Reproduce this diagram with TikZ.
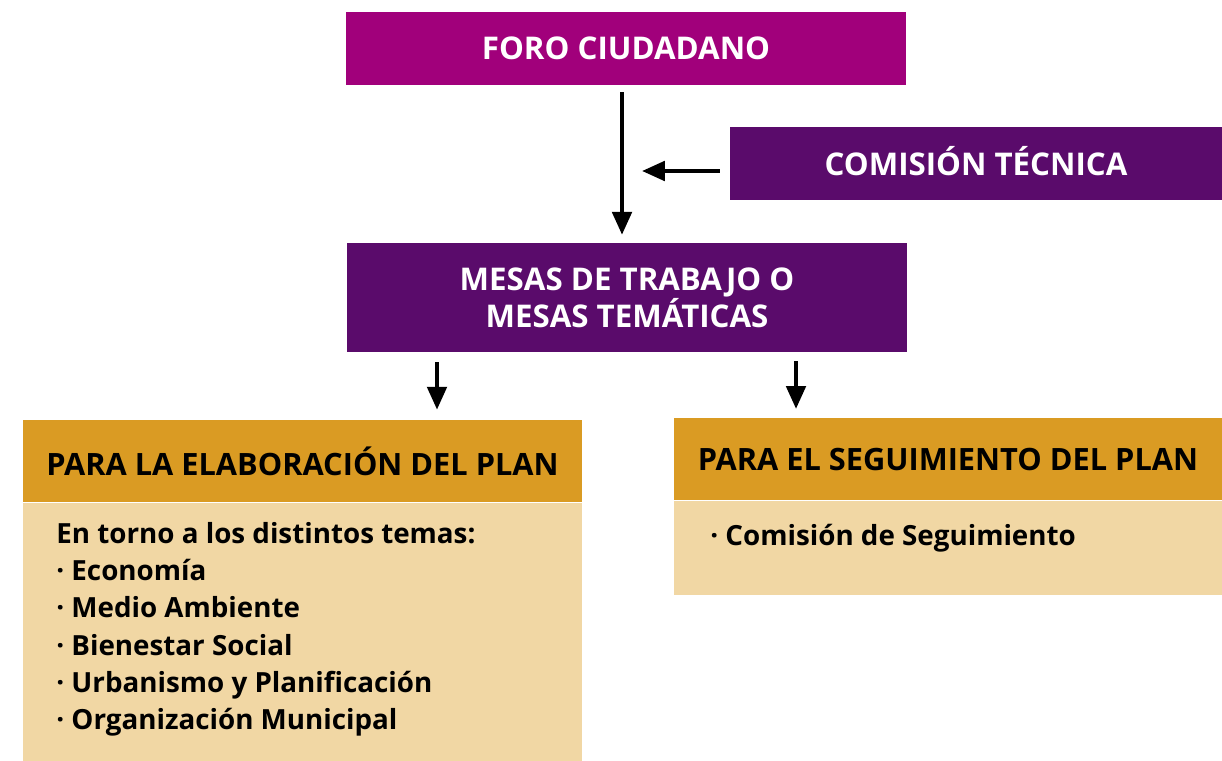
\documentclass[tikz,border=0pt]{standalone}
\usepackage{fontspec}
\setmainfont{Open Sans}
\usetikzlibrary{arrows.meta,positioning}
\definecolor{foroColor}{HTML}{A1007B}
\definecolor{mesaColor}{HTML}{5A0B6B}
\definecolor{headColor}{HTML}{DA9B23}
\definecolor{bodyColor}{HTML}{F1D7A4}
\tikzset{
  bigbox/.style={rectangle, inner sep=0pt, text=white, align=center,
    font=\bfseries\fontsize{17.8}{21}\selectfont},
  headbox/.style={rectangle, fill=headColor, inner sep=0pt, align=center,
    font=\bfseries\fontsize{17.5}{21}\selectfont},
  bodybox/.style={rectangle, fill=bodyColor, inner sep=0pt},
  bodytext/.style={inner sep=0pt, align=left,
    font=\bfseries\fontsize{15.8}{21.2}\selectfont},
  flow/.style={line width=2.3pt, -{Triangle[width=11pt,length=13pt]}},
}

\begin{document}
\begin{tikzpicture}[x=0.02cm, y=-0.02cm]
  \useasboundingbox (0,0) rectangle (1222,760);
  % top row
  \node[bigbox, fill=foroColor, minimum width=11.2cm, minimum height=1.46cm] (foro) at (626,48.5) {FORO CIUDADANO};
  \node[bigbox, fill=mesaColor, minimum width=9.84cm, minimum height=1.46cm] (comision) at (976,163.5) {\raisebox{3pt}{COMISIÓN TÉCNICA}};
  \node[bigbox, fill=mesaColor, minimum width=11.2cm, minimum height=2.18cm] (mesas) at (627,297.5) {MESAS DE TRABAJO O\\MESAS TEMÁTICAS};

  % two branches
  \node[headbox, minimum width=11.18cm, minimum height=1.64cm] (elab) at (302.5,461) {PARA LA ELABORACIÓN DEL PLAN};
  \node[bodybox, minimum width=11.18cm, minimum height=5.16cm, below=0pt of elab] (elabbody) {};
  \node[headbox, minimum width=10.96cm, minimum height=1.64cm] (segui) at (948,459) {PARA EL SEGUIMIENTO DEL PLAN};
  \node[bodybox, minimum width=10.96cm, minimum height=1.88cm, below=0pt of segui] (seguibody) {};

  \node[bodytext, anchor=north west] (temas) at (56,522) {En torno a los distintos temas:\\
    · Economía\\ · Medio Ambiente\\ · Bienestar Social\\ · Urbanismo y Planificación\\ · Organización Municipal};
  \node[bodytext, anchor=north west] (comseg) at (710,524) {· Comisión de Seguimiento};

  % arrows
  \coordinate (joinpt) at (642,171);
  \draw[flow, shorten <=4pt, shorten >=4.5pt] (foro.south -| 622,0) -- (mesas.north -| 622,0);
  \draw[flow, shorten <=5.7pt] (comision.west |- joinpt) -- (joinpt);
  \draw[flow, shorten <=5.7pt, shorten >=5.7pt] (mesas.south -| 437,0) -- (elab.north -| 437,0);
  \draw[flow, shorten <=5pt, shorten >=5pt] (mesas.south -| 796,0) -- (segui.north -| 796,0);
\end{tikzpicture}
\end{document}
